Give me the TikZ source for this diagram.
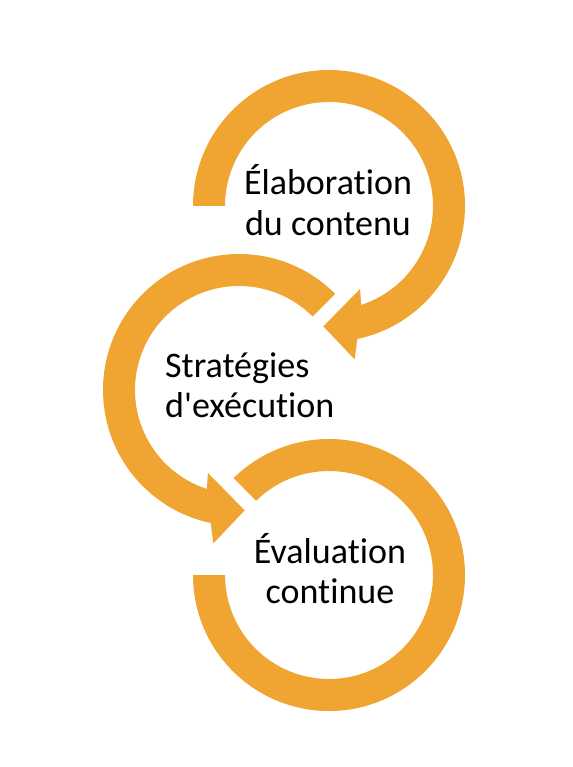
\documentclass[tikz,border=0pt]{standalone}
\usepackage{fontspec}
\newfontfamily\labfont{Carlito}[Ligatures=NoCommon]
\usetikzlibrary{calc}

\begin{document}
\begin{tikzpicture}[
  x=1pt, y=1pt,
  line join=miter,
  ring/.style={fill=cycleorange, draw=none},
  lab/.style={font=\labfont\fontsize{36}{40}\selectfont, inner sep=0pt, text=black}
]

% --- Colours ---
\definecolor{cycleorange}{RGB}{240,165,50}

% --- Parameters: ring widths ---
\def\Ro{136}   % outer radius
\def\Ri{104}   % inner radius

\useasboundingbox (0,0) rectangle (572,-767);

% --- Centres of the three rings ---
\coordinate (C1) at (329,-206);
\coordinate (C2) at (239,-390);
\coordinate (C3) at (329,-575);

% Top ring (clockwise, head at the bottom)
\fill[ring] ($(C1)+(180:\Ro)$) arc[start angle=180, end angle=-78, radius=\Ro]
  -- ($(C1)+(279.5:155.5)$) -- ($(C1)+(267.3:120.5)$) -- ($(C1)+(290.6:88.5)$)
  -- ($(C1)+(288:\Ri)$) arc[start angle=-72, end angle=180, radius=\Ri] -- cycle;

% Middle ring (counter clockwise, head at the bottom)
\fill[ring] ($(C2)+(45:\Ro)$) arc[start angle=45, end angle=258, radius=\Ro]
  -- ($(C2)+(260.5:155.5)$) -- ($(C2)+(272.7:120.5)$) -- ($(C2)+(249.4:88.5)$)
  -- ($(C2)+(252:\Ri)$) arc[start angle=252, end angle=45, radius=\Ri] -- cycle;

% Bottom ring (no head)
\fill[ring] ($(C3)+(180:\Ro)$) arc[start angle=180, end angle=494.5, radius=\Ro]
  -- ($(C3)+(134.5:\Ri)$) arc[start angle=134.5, end angle=-180, radius=\Ri] -- cycle;

% --- Labels (base = last line) ---
\node[lab, anchor=base, align=center] (elab) at (328,-235) {Élaboration\\du contenu};
\node[lab, anchor=base west, align=left] (strat) at (165,-417) {Stratégies\\d'exécution};
\node[lab, anchor=base, align=center] (eval) at (330,-603) {Évaluation\\continue};
\end{tikzpicture}
\end{document}
